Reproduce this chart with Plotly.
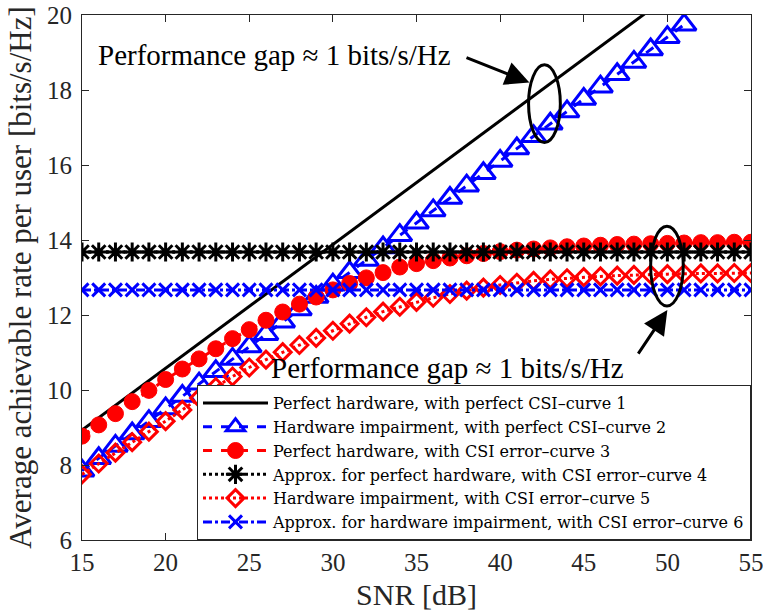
import plotly.graph_objects as go

snr_db = [15, 16, 17, 18, 19, 20, 21, 22, 23, 24, 25, 26, 27, 28, 29, 30, 31, 32, 33, 34,
          35, 36, 37, 38, 39, 40, 41, 42, 43, 44, 45, 46, 47, 48, 49, 50, 51, 52, 53, 54, 55]

curve1_perfect_hw_perfect_csi = [8.93, 9.26, 9.59, 9.92, 10.25, 10.58, 10.91, 11.24, 11.57, 11.90,
                                 12.23, 12.56, 12.89, 13.22, 13.55, 13.88, 14.21, 14.54, 14.87, 15.20,
                                 15.53, 15.86, 16.19, 16.52, 16.85, 17.18, 17.51, 17.84, 18.17, 18.50,
                                 18.83, 19.16, 19.49, 19.82, 20.15, 20.48, 20.81, 21.14, 21.47, 21.80, 22.13]

curve2_hwi_perfect_csi = [7.85, 8.18, 8.51, 8.84, 9.17, 9.51, 9.84, 10.17, 10.50, 10.83,
                          11.16, 11.49, 11.82, 12.15, 12.48, 12.81, 13.14, 13.47, 13.80, 14.13,
                          14.46, 14.79, 15.12, 15.45, 15.78, 16.11, 16.44, 16.77, 17.10, 17.43,
                          17.76, 18.09, 18.42, 18.75, 19.08, 19.41, 19.74]

curve3_perfect_hw_csi_err = [8.77, 9.07, 9.37, 9.69, 9.99, 10.28, 10.56, 10.83, 11.10, 11.37,
                             11.61, 11.86, 12.08, 12.29, 12.48, 12.67, 12.84, 12.99, 13.13, 13.28,
                             13.37, 13.45, 13.52, 13.58, 13.64, 13.69, 13.73, 13.76, 13.79, 13.82,
                             13.84, 13.86, 13.88, 13.89, 13.90, 13.91, 13.92, 13.93, 13.93, 13.94, 13.94]

curve4_approx_perfect_hw = [13.68] * 41

curve5_hwi_csi_err = [7.75, 8.04, 8.33, 8.61, 8.89, 9.17, 9.47, 9.79, 10.08, 10.36,
                      10.60, 10.81, 11.01, 11.20, 11.39, 11.58, 11.77, 11.94, 12.09, 12.22,
                      12.35, 12.46, 12.56, 12.65, 12.73, 12.80, 12.86, 12.91, 12.95, 12.98,
                      13.01, 13.03, 13.05, 13.07, 13.08, 13.09, 13.10, 13.11, 13.11, 13.12, 13.12]

curve6_approx_hwi = [12.67] * 41

names = ["Perfect hardware, with perfect CSI\u2013curve 1",
         "Hardware impairment, with perfect CSI\u2013curve 2",
         "Perfect hardware, with CSI error\u2013curve 3",
         "Approx. for perfect hardware, with CSI error\u2013curve 4",
         "Hardware impairment, with CSI error\u2013curve 5",
         "Approx. for hardware impairment, with CSI error\u2013curve 6"]

annot_text = "Performance gap \u2248 1 bits/s/Hz"

FONT = "Liberation Serif"
LEGEND_FONT = "DejaVu Serif"
BLUE = "#0000ff"
RED = "#ff0000"
BLACK = "#000000"
AXC = "#262626"

fig = go.Figure()

fig.add_trace(go.Scatter(x=snr_db, y=curve1_perfect_hw_perfect_csi, mode="lines",
                         line=dict(color=BLACK, width=3), name=names[0]))
fig.add_trace(go.Scatter(x=snr_db[:len(curve2_hwi_perfect_csi)], y=curve2_hwi_perfect_csi,
                         mode="lines+markers", line=dict(color=BLUE, width=3, dash="dash"),
                         marker=dict(symbol="triangle-up-open", size=21, color=BLUE,
                                     line=dict(color=BLUE, width=3)), name=names[1]))
fig.add_trace(go.Scatter(x=snr_db, y=curve3_perfect_hw_csi_err, mode="lines+markers",
                         line=dict(color=RED, width=3, dash="dash"),
                         marker=dict(symbol="circle", size=16, color=RED,
                                     line=dict(color=RED, width=1)), name=names[2]))
fig.add_trace(go.Scatter(x=snr_db, y=curve4_approx_perfect_hw, mode="lines+markers",
                         line=dict(color=BLACK, width=3, dash="dot"),
                         marker=dict(symbol="asterisk-open", size=16, color=BLACK,
                                     line=dict(color=BLACK, width=3)), name=names[3]))
fig.add_trace(go.Scatter(x=snr_db, y=curve5_hwi_csi_err, mode="lines+markers",
                         line=dict(color=RED, width=3, dash="dot"),
                         marker=dict(symbol="diamond-open", size=13, color=RED,
                                     line=dict(color=RED, width=3)), name=names[4]))
fig.add_trace(go.Scatter(x=snr_db, y=curve6_approx_hwi, mode="lines+markers",
                         line=dict(color=BLUE, width=3, dash="dashdot"),
                         marker=dict(symbol="x-thin-open", size=13, color=BLUE,
                                     line=dict(color=BLUE, width=3)), name=names[5]))

# ellipses
fig.add_shape(type="circle", xref="x", yref="y", x0=41.7, x1=43.6, y0=16.6, y1=18.67,
              line=dict(color=BLACK, width=3))
fig.add_shape(type="circle", xref="x", yref="y", x0=49.0, x1=50.95, y0=12.24, y1=14.37,
              line=dict(color=BLACK, width=3))

# arrows
fig.add_annotation(x=41.75, y=18.2, ax=37.9, ay=18.88, xref="x", yref="y", axref="x", ayref="y",
                   text="", showarrow=True, arrowhead=2, arrowsize=1.6, arrowwidth=3,
                   arrowcolor=BLACK, standoff=0)
fig.add_annotation(x=50.0, y=12.13, ax=48.2, ay=10.93, xref="x", yref="y", axref="x", ayref="y",
                   text="", showarrow=True, arrowhead=2, arrowsize=1.6, arrowwidth=3,
                   arrowcolor=BLACK, standoff=0)

fig.add_annotation(x=15.85, y=18.93, xref="x", yref="y", text=annot_text, showarrow=False,
                   xanchor="left", yanchor="middle", font=dict(family=FONT, size=29, color=BLACK))
fig.add_annotation(x=26.2, y=10.6, xref="x", yref="y", text=annot_text, showarrow=False,
                   xanchor="left", yanchor="middle", font=dict(family=FONT, size=29, color=BLACK))

axis_common = dict(showgrid=False, zeroline=False, showline=True, linecolor=AXC, linewidth=1,
                   mirror="ticks", ticks="inside", ticklen=7, tickwidth=1, tickcolor=AXC,
                   automargin=False, ticklabeloverflow="allow",
                   tickfont=dict(family=FONT, size=25, color=AXC))

fig.update_xaxes(range=[15, 55], tickvals=[15, 20, 25, 30, 35, 40, 45, 50, 55],
                 title=dict(text="SNR [dB]", font=dict(family=FONT, size=30, color=AXC), standoff=8),
                 **axis_common)
fig.update_yaxes(range=[6, 20], tickvals=[6, 8, 10, 12, 14, 16, 18, 20],
                 title=dict(text="Average achievable rate per user [bits/s/Hz]",
                            font=dict(family=FONT, size=31, color=AXC), standoff=6),
                 ticklabelstandoff=4, **axis_common)

fig.update_layout(
    width=763, height=616,
    margin=dict(l=82, r=12, t=15, b=76),
    paper_bgcolor="white", plot_bgcolor="white",
    showlegend=True,
    legend=dict(x=1, y=0, xanchor="right", yanchor="bottom", bgcolor="white",
                bordercolor=AXC, borderwidth=1, itemwidth=65,
                font=dict(family=LEGEND_FONT, size=16, color=BLACK), tracegroupgap=0),
)

fig.write_html("out.html")
